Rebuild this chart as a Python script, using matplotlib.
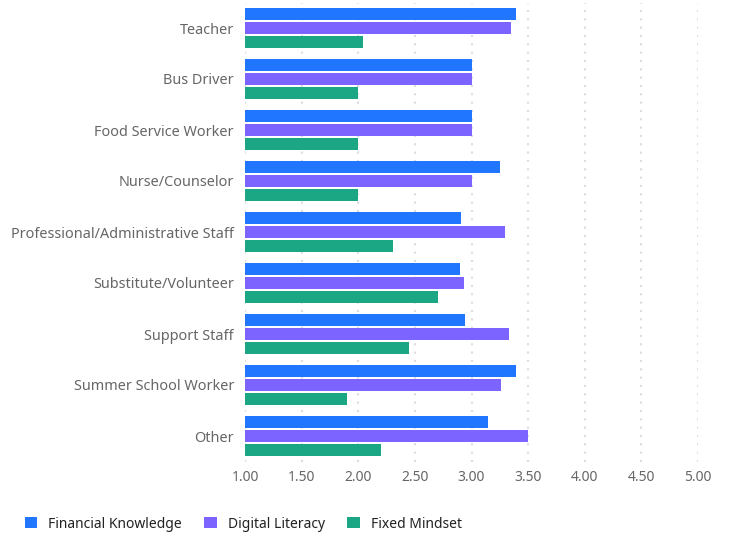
import matplotlib
matplotlib.use("Agg")
import matplotlib.pyplot as plt
import numpy as np
from matplotlib.patches import Patch

categories = ["Teacher", "Bus Driver", "Food Service Worker", "Nurse/Counselor",
              "Professional/Administrative Staff", "Substitute/Volunteer",
              "Support Staff", "Summer School Worker", "Other"]
financial_knowledge = [3.39, 3.00, 3.00, 3.25, 2.91, 2.90, 2.94, 3.39, 3.15]
digital_literacy = [3.35, 3.00, 3.00, 3.00, 3.30, 2.93, 3.33, 3.26, 3.50]
fixed_mindset = [2.04, 2.00, 2.00, 2.00, 2.31, 2.70, 2.45, 1.90, 2.20]
series_names = ["Financial Knowledge", "Digital Literacy", "Fixed Mindset"]
colors = ["#2176FF", "#7B64FF", "#1BA784"]
xticks = [1.0, 1.5, 2.0, 2.5, 3.0, 3.5, 4.0, 4.5, 5.0]

plt.rcParams['font.family'] = ['Noto Sans', 'DejaVu Sans']

fig = plt.figure(figsize=(7.3, 5.38), dpi=100)
ax = fig.add_axes([245/730, 1-461.5/538, (698-245)/730, 459/538])

y = np.arange(len(categories))
step = 0.275
h = 0.22
base = 1.0
for i, (vals, c) in enumerate(zip([financial_knowledge, digital_literacy, fixed_mindset], colors)):
    ax.barh(y + (i-1)*step, np.array(vals) - base, left=base, height=h, color=c, zorder=3)

ax.set_xlim(1.0, 5.0)
ax.set_ylim(len(categories)-0.5, -0.5)
ax.set_xticks(xticks)
ax.set_xticklabels([f"{t:.2f}" for t in xticks])
ax.set_yticks(y)
ax.set_yticklabels(categories)
ax.tick_params(axis='both', length=0, labelsize=10, colors="#666666")
ax.tick_params(axis='y', pad=8, labelsize=10.4)
ax.tick_params(axis='x', pad=6)
for s in ax.spines.values():
    s.set_visible(False)
ax.grid(axis='x', color="#dddddd", linestyle=(0, (1, 3)), linewidth=1.5, zorder=0)
ax.set_axisbelow(True)

handles = [Patch(facecolor=c, edgecolor='none') for c in colors]
fig.legend(handles, series_names, loc='center left', bbox_to_anchor=(12/730, 1-524/538),
           ncol=3, frameon=False, fontsize=10, handlelength=0.9, handleheight=0.9,
           columnspacing=1.6, handletextpad=0.8, labelcolor="#222222")

fig.savefig("out.png", dpi=100)
